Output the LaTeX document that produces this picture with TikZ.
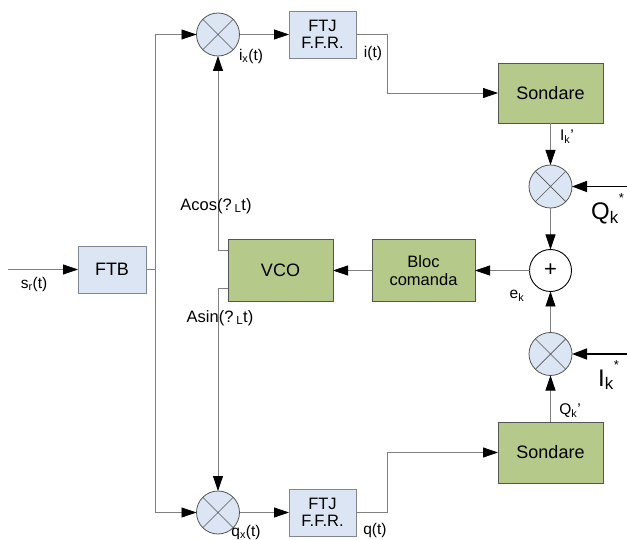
\documentclass[tikz,border=0pt]{standalone}
\usepackage{fontspec}
\setmainfont{Liberation Sans}
\usetikzlibrary{arrows.meta,calc}
\definecolor{bfill}{HTML}{DCE5F4}
\definecolor{gfill}{HTML}{B5C98B}
\definecolor{ln}{HTML}{808080}
\definecolor{bd}{HTML}{555555}
\definecolor{bbd}{HTML}{7F8694}
\begin{document}
\begin{tikzpicture}[x=1pt,y=-1pt,
  bbox/.style={draw=bbd, fill=bfill, line width=0.8pt, align=center, inner sep=1pt, outer sep=0pt},
  gbox/.style={draw=bd, fill=gfill, line width=0.8pt, align=center, inner sep=1pt, outer sep=0pt, minimum width=105pt},
  fbig/.style={font=\fontsize{18}{21}\selectfont},
  fmid/.style={font=\fontsize{16.5}{19}\selectfont},
  flab/.style={font=\fontsize{15.5}{18}\selectfont, inner sep=0pt},
  fhuge/.style={font=\fontsize{24}{28}\selectfont, inner sep=0pt},
  mixer/.style={circle, draw=bd, fill=bfill, line width=0.8pt, minimum size=43pt, inner sep=0pt, outer sep=0pt,
    path picture={\draw[bd, line width=0.7pt]
      ($(path picture bounding box.center)+(45:23pt)$) -- ($(path picture bounding box.center)+(225:23pt)$)
      ($(path picture bounding box.center)+(135:23pt)$) -- ($(path picture bounding box.center)+(-45:23pt)$);}},
  summer/.style={circle, draw=black, fill=white, line width=0.9pt, minimum size=42pt, inner sep=0pt, outer sep=0pt,
    font=\fontsize{22}{24}\selectfont},
  wire/.style={draw=ln, line width=0.8pt},
  arr/.style={draw=ln, line width=0.8pt, -{Triangle[length=15pt,width=10pt,color=black]}},
  arrk/.style={draw=black, line width=1.4pt, -{Triangle[length=15pt,width=11pt]}}
]
\fill[white] (0,0) rectangle (627,540);
\useasboundingbox (0,0) rectangle (627,540);

% blocks
\node[bbox, fbig, minimum width=68pt, minimum height=47pt] (FTB) at (112,269.5) {FTB};
\node[bbox, fmid, minimum width=67pt, minimum height=47pt] (FTJa) at (322.5,34.5) {FTJ\\[-2pt]F.F.R.};
\node[bbox, fmid, minimum width=67pt, minimum height=47pt] (FTJb) at (322.5,512.5) {FTJ\\[-2pt]F.F.R.};
\node[gbox, fbig, minimum height=62pt] (VCO) at (280.5,270.5) {VCO};
\node[gbox, fmid, minimum width=103pt, minimum height=62pt] (BC) at (423.5,270.5) {Bloc\\[-1pt]comanda};
\node[gbox, fbig, minimum height=60pt] (SDa) at (550.5,93) {Sondare};
\node[gbox, fbig, minimum height=61pt] (SDb) at (550.5,452.5) {Sondare};

% mixers and summer
\node[mixer] (Ma) at (218,34.5) {};
\node[mixer] (Mb) at (218,512.5) {};
\node[mixer] (Mc) at (550.5,186.5) {};
\node[mixer] (Md) at (550.5,354) {};
\node[summer] (S) at (550.5,270.5) {+};

% free ends
\coordinate (in) at (8,269.5);
\coordinate (br) at (155,269.5);
\coordinate (qin) at (627,186.5);
\coordinate (iin) at (627,354);

% connectors
\draw[arr] (in) -- (FTB.west);
\draw[wire] (FTB.east) -- (br);
\draw[arr] (br) |- (Ma.west);
\draw[arr] (br) |- (Mb.west);
\draw[arr] (Ma.east) -- (FTJa.west);
\draw[arr] (Mb.east) -- (FTJb.west);
\draw[arr] (FTJa.east) -- ++(31,0) |- (SDa.west);
\draw[arr] (FTJb.east) -- ++(31,0) |- (SDb.west);
\draw[arr] (SDa.south) -- (Mc.north);
\draw[arr] (SDb.north) -- (Md.south);
\draw[arrk] (qin) -- (Mc.east);
\draw[arrk] (iin) -- (Md.east);
\draw[arr] (Mc.south) -- (S.north);
\draw[arr] (Md.north) -- (S.south);
\draw[arr] (S.west) -- (BC.east);
\draw[arr] (BC.west) -- (VCO.east);
\draw[arr] ([yshift=20.5pt]VCO.west) -| (Ma.south);
\draw[arr] ([yshift=-17.5pt]VCO.west) -| (Mb.north);

% labels
\node[flab] (lsr) at (34,284) {s\textsubscript{r}(t)};
\node[flab] (lix) at (251,56) {i\textsubscript{x}(t)};
\node[flab] (li) at (373,53) {i(t)};
\node[flab] (lqx) at (246,532) {q\textsubscript{x}(t)};
\node[flab] (lq) at (375,530) {q(t)};
\node[flab] (lIk) at (567,137) {I\textsubscript{k}’};
\node[flab] (lQk) at (570,411) {Q\textsubscript{k}’};
\node[flab] (lek) at (517,296) {e\textsubscript{k}};
\node[fmid, inner sep=0pt] (lcos) at (216,206) {Acos(?\,\textsubscript{L}t)};
\node[fmid, inner sep=0pt] (lsin) at (220,318) {Asin(?\,\textsubscript{L}t)};
\node[fhuge, anchor=base west] (lQs) at (591,220) {Q\textsubscript{k}\raisebox{17pt}{\fontsize{13}{14}\selectfont *}};
\node[fhuge, anchor=base west] (lIs) at (598,386) {I\textsubscript{k}\raisebox{17pt}{\fontsize{13}{14}\selectfont *}};
\end{tikzpicture}
\end{document}
